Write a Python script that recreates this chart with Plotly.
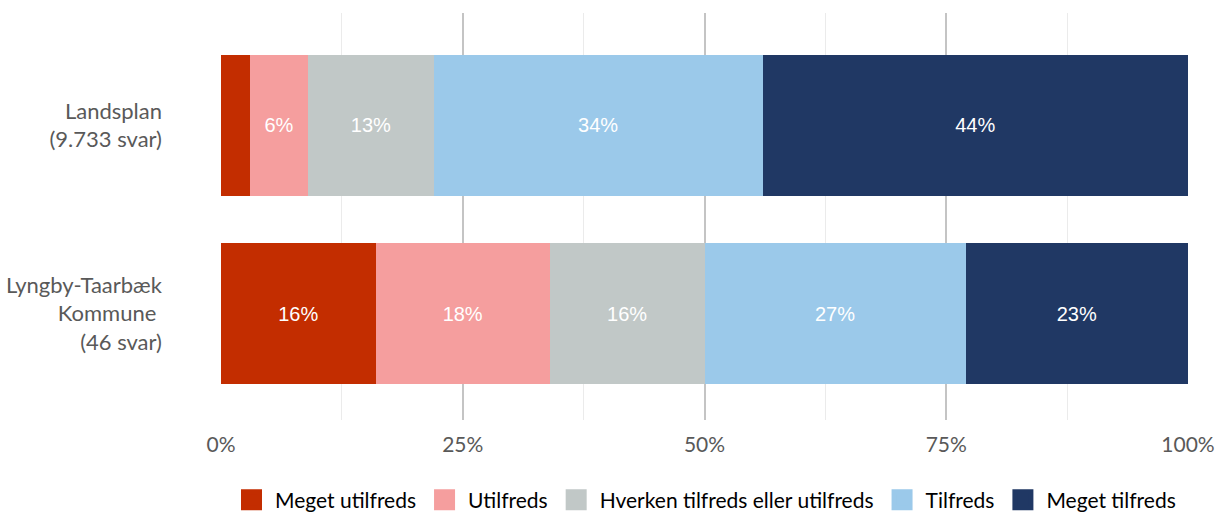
import plotly.graph_objects as go

categories = ["Landsplan<br>(9.733 svar)", "Lyngby-Taarbæk<br>Kommune\u00a0<br>(46 svar)"]
answers = ["Meget utilfreds", "Utilfreds", "Hverken tilfreds eller utilfreds", "Tilfreds", "Meget tilfreds"]
landsplan = [3, 6, 13, 34, 44]
lyngby = [16, 18, 16, 27, 23]
colors = ["#C32D00", "#F59E9E", "#C1C8C7", "#9BC9EA", "#203864"]
x_ticks = [0, 25, 50, 75, 100]

fig = go.Figure()
for i, name in enumerate(answers):
    vals = [landsplan[i], lyngby[i]]
    fig.add_trace(go.Bar(
        y=categories,
        x=vals,
        orientation="h",
        name=name,
        width=0.75,
        marker=dict(color=colors[i], line=dict(width=0)),
        text=[f"{v}%" if v >= 5 else "" for v in vals],
        textposition="inside",
        insidetextanchor="middle",
        textfont=dict(family="Liberation Sans, Arial", size=20, color="white"),
        showlegend=False,
        hoverinfo="skip",
    ))
    # legend entry with a bigger square
    fig.add_trace(go.Scatter(
        x=[None], y=[None],
        mode="markers",
        name=name,
        marker=dict(symbol="square", size=16, color=colors[i],
                    line=dict(width=5, color=colors[i])),
        hoverinfo="skip",
    ))

fig.update_layout(
    barmode="stack",
    width=1215,
    height=515,
    margin=dict(l=221, r=27, t=13, b=95, autoexpand=False),
    paper_bgcolor="white",
    plot_bgcolor="white",
    font=dict(family="Lato, Open Sans, sans-serif", size=22, color="#595959"),
    legend=dict(
        orientation="h",
        x=0.5, xanchor="center",
        yref="container",
        y=0.029, yanchor="middle",
        font=dict(size=21, color="black"),
        itemwidth=37,
        traceorder="normal",
    ),
    xaxis=dict(
        range=[0, 100],
        tickmode="array",
        tickvals=x_ticks,
        ticktext=[f"{t}%" for t in x_ticks],
        showgrid=True,
        gridcolor="#C4C4C4",
        gridwidth=2,
        zeroline=False,
        showline=False,
        automargin=False,
        ticklabelstandoff=10,
        tickfont=dict(size=21),
        minor=dict(showgrid=True, dtick=12.5, gridcolor="#EBEBEB", gridwidth=1),
        fixedrange=True,
    ),
    yaxis=dict(
        type="category",
        range=[1.566, -0.598],
        showgrid=False,
        zeroline=False,
        automargin=False,
        ticklabelstandoff=58,
        fixedrange=True,
    ),
)

fig.write_html("out.html", config={"displayModeBar": False},
               post_script="document.body.style.margin='0';")
